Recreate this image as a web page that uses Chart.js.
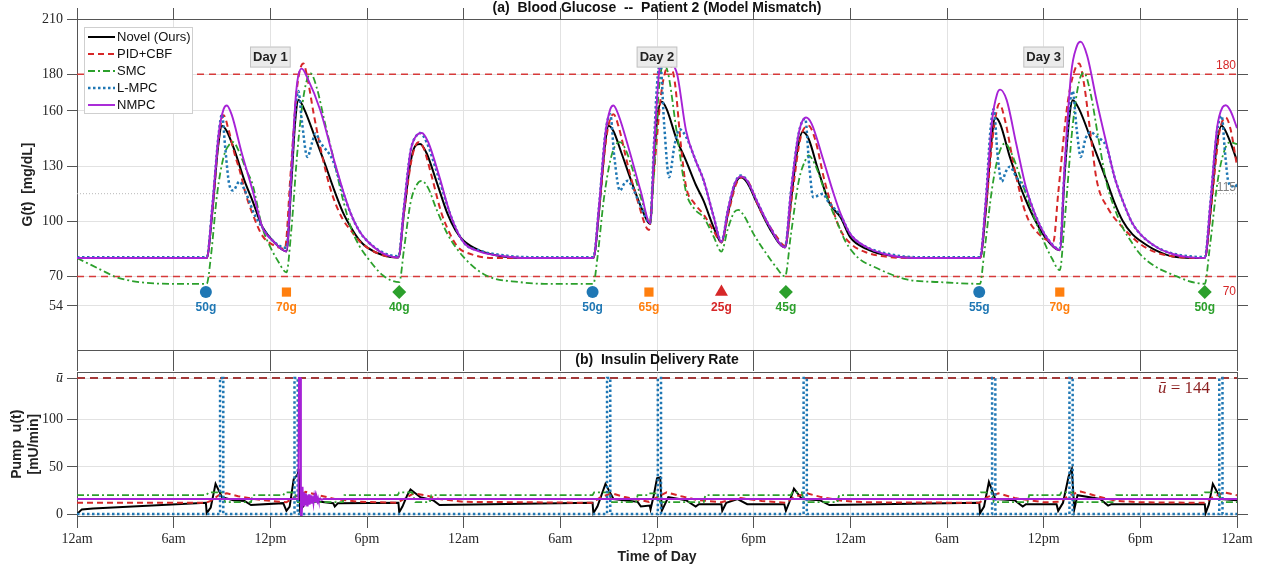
<!DOCTYPE html>
<html>
<head>
<meta charset="utf-8">
<script src="https://cdn.jsdelivr.net/npm/chart.js@4.4.1/dist/chart.umd.min.js"></script>
<style>
  html, body { margin: 0; padding: 0; background: #fff; }
  #wrap { position: relative; width: 1267px; height: 571px; overflow: hidden; }
  canvas { position: absolute; left: 0; }
  #glucose { top: 0; }
  #insulin { top: 360px; }
</style>
</head>
<body>
<div id="wrap">
  <canvas id="glucose" width="1267" height="371"></canvas>
  <canvas id="insulin" width="1267" height="211"></canvas>
</div>
<script>
// ── Data (hours since midnight of day 1) ─────────────────────────────

const hourTicks  = [0, 6, 12, 18, 24, 30, 36, 42, 48, 54, 60, 66, 72];
const timeLabels = ['12am', '6am', '12pm', '6pm', '12am', '6am', '12pm', '6pm',
                    '12am', '6am', '12pm', '6pm', '12am'];
const glucoseTicks = [54, 70, 100, 130, 160, 180, 210];
const pumpTicks    = [0, 50, 100, 144];

const seriesNames = ['Novel (Ours)', 'PID+CBF', 'SMC', 'L-MPC', 'NMPC'];

const hyperLimit  = 180;
const hypoLimit   = 70;
const targetLevel = 115;
const pumpMax     = 144;

const mealHours = [8, 13, 20, 32, 35.5, 40, 44, 56, 61, 70];
const mealGrams = ['50g', '70g', '40g', '50g', '65g', '25g', '45g', '55g', '70g', '50g'];
const mealKinds = ['circle', 'rect', 'rectRot', 'circle', 'rect', 'triangle', 'rectRot',
                   'circle', 'rect', 'rectRot'];

const dayHours = [12, 36, 60];
const dayNames = ['Day 1', 'Day 2', 'Day 3'];

// glucose G(t) [mg/dL]
const gNovel = [[0,80],[8.05,80],[8.4,105],[8.75,140],[9.0,152],[9.3,149],[9.8,138],[10.4,122],[10.9,111],[11.5,97],[12.2,89],[13.0,83.6],
  [13.3,120],[13.55,155],[13.75,166],[14.1,161],[14.8,145],[15.4,131],[15.9,118.5],[16.5,105],[17.0,96.7],[17.5,90],[18.0,85.8],[19.0,81.5],[19.95,80.3],
  [20.3,105],[20.7,132],[21.0,141],[21.3,142],[21.7,137],[22.3,122],[23.0,104],[23.5,95],[24.0,89.4],[25.0,84],[26.0,81.5],[27.5,80],
  [32.05,80],[32.4,105],[32.75,140],[33.0,152],[33.3,149],[33.8,137],[34.4,122],[35.0,108],[35.57,98.6],
  [35.8,130],[36.0,155],[36.3,165],[36.6,161],[37.2,145],[37.8,133],[38.4,120],[38.9,111],[39.5,97],[40.0,88.5],
  [40.4,104],[40.8,119],[41.2,124],[41.6,121],[42.2,110],[43.0,96],[43.95,85.8],
  [44.3,110],[44.7,138],[45.04,148.5],[45.4,145],[46.0,128],[46.7,110],[47.4,102],[48.0,91.2],[49.0,85],[50.0,82],[52.0,80],
  [56.05,80],[56.4,105],[56.75,143],[57.0,156.4],[57.3,153],[57.9,135],[58.5,120],[58.9,111.3],[59.5,100],[60.2,90],[61.0,84.3],
  [61.3,125],[61.6,157],[61.8,165.8],[62.2,161],[63.0,143],[63.9,122.2],[64.4,110],[64.9,100.3],[65.5,93],[66.0,89.4],[67.0,84],[68.0,80.9],[70.0,80],
  [70.35,105],[70.75,142],[71.05,152],[71.4,147],[72.0,133]];

const gPid = [[0,80],[8.05,80],[8.4,106],[8.8,145],[9.1,157.6],[9.4,150],[9.8,136],[10.1,127.6],[10.5,114],[10.9,104],[11.5,92.2],[12.2,87],[12.9,85],
  [13.25,125],[13.65,172],[14.05,185.8],[14.3,178],[14.7,158],[15.1,140.4],[15.5,125],[15.9,113],[16.5,101],[17.0,95],[17.5,89.5],[18.0,85.8],[19.0,81.5],[19.95,80.3],
  [20.3,105],[20.8,135],[21.2,143],[21.5,140],[22.0,125],[22.6,105],[23.0,96],[23.6,86.4],[24.5,82],[26,80],
  [32.05,80],[32.4,106],[32.9,148],[33.3,158.2],[33.6,152],[34.2,130],[34.8,111],[35.5,95.3],
  [35.8,125],[36.3,172],[36.8,185],[37.1,176],[37.5,140],[37.8,119],[38.3,110],[38.9,103.6],[39.5,95],[40.0,88.5],
  [40.4,103],[40.9,120],[41.3,124],[41.7,121],[42.3,108],[42.8,100],[43.4,92],[43.95,86.7],
  [44.4,115],[44.9,145],[45.4,152],[45.8,145],[46.4,122],[47.0,104],[47.4,95],[48.0,88],[49.0,83],[50.5,80.5],[52,80],
  [56.05,80],[56.4,106],[56.9,150],[57.25,163.9],[57.6,155],[58.2,128],[58.9,104],[59.6,94],[60.6,88.9],
  [60.9,115],[61.5,165],[62.0,184],[62.2,185.8],[62.5,175],[62.9,148],[63.3,122],[64.0,107],[64.9,96.7],[66.0,87.6],[67.0,83],[68.5,80.5],[70.0,80],
  [70.4,108],[70.9,148],[71.3,156.4],[71.6,150],[72.0,130]];

const gSmc = [[0,80],[0.7,77],[1.4,74],[2.45,69.6],[3.9,66.9],[6,66],[8.05,66],[8.3,80],[8.7,115],[9.1,135],[9.4,141],[9.7,143],[10.0,139],[10.5,128],[10.9,120],[11.5,96.7],[12.0,86],[12.5,78],[13.0,72.2],
  [13.3,95],[13.7,140],[14.1,170],[14.5,180.4],[14.9,172],[15.4,153],[15.9,135],[16.5,112],[17.0,96.7],[17.5,87],[18.0,80.5],[19.0,70.5],[20.0,66.9],
  [20.3,85],[20.7,110],[21.1,120],[21.4,122],[21.8,118],[22.3,106.8],[23.0,93],[24.0,80.5],[25.4,70.5],[27.5,66.9],[29,66],
  [32.05,66],[32.3,80],[32.7,112],[33.1,133],[33.4,141],[33.7,143],[34.0,140],[34.6,125],[35.1,110],[35.57,99.3],
  [35.8,125],[36.1,170],[36.4,186],[36.7,180],[37.2,150],[37.8,116],[38.3,107],[38.9,102],[39.5,92],[40.0,83.5],
  [40.4,96],[40.8,105],[41.05,106.2],[41.4,103],[42.0,93],[42.8,82.2],[43.4,75],[43.95,70],
  [44.3,92],[44.8,122],[45.2,133],[45.4,135.8],[45.8,131],[46.5,114],[47.3,97],[47.7,89],[48.5,80],[49.4,75.5],[51.5,68.4],[53.6,66.9],[56.05,66],
  [56.3,82],[56.8,118],[57.2,136],[57.6,142.4],[58.0,137],[58.9,114.8],[59.5,100],[60.0,89.3],[60.5,80],[61.0,73.4],
  [61.3,100],[61.8,152],[62.2,176],[62.5,180.7],[62.9,170],[63.4,145],[63.9,121],[64.4,107],[64.9,96.7],[65.5,88],[66.0,82],[67.0,75],[68.0,71],[69.0,67.5],[70.0,66],
  [70.3,85],[70.8,122],[71.2,138],[71.55,143],[72.0,142]];

const gLmpc = [[0,80.5],[8.05,80.5],[8.4,108],[8.8,148],[9.0,158.2],[9.2,140],[9.45,120],[9.7,116.7],[10.0,121],[10.1,121.6],[10.35,118],[10.6,113],[11.0,104],[11.5,96.7],[12.2,89],[13.0,85.5],
  [13.3,125],[13.55,160],[13.74,170.8],[13.95,155],[14.3,135],[14.6,143],[14.8,147.8],[15.1,143],[15.9,132.7],[16.5,116],[17.0,104],[17.5,95],[18.0,89.4],[19.0,83],[19.95,81],
  [20.3,108],[20.7,138],[21.1,147],[21.3,148],[21.7,143],[22.4,125],[23.2,103],[24.0,88.5],[25.0,84],[26.5,81.5],[28,80.5],
  [32.05,80.5],[32.4,108],[32.8,148],[33.1,158.2],[33.35,135],[33.7,116.7],[34.0,121],[34.2,122],[34.5,118],[35.0,108],[35.57,99],
  [35.8,140],[36.0,174],[36.2,186],[36.45,152],[36.75,124],[37.1,142],[37.4,150],[37.8,146],[38.4,133],[38.9,122],[39.5,103],[40.0,89],
  [40.4,106],[40.8,120],[41.2,124.9],[41.6,122],[42.2,111],[43.0,97],[43.95,86.2],
  [44.3,115],[44.8,148],[45.2,155.8],[45.45,130],[45.7,113],[46.0,114],[46.3,115],[46.6,111],[46.9,108],[47.4,103],[48.0,93],[49.0,86],[50.0,83],[52,80.5],
  [56.05,80.5],[56.4,110],[56.7,150],[56.9,161],[57.15,135],[57.4,121.6],[57.65,127],[57.9,129.7],[58.3,124],[58.9,116.7],[59.5,103],[60.2,91],[61.0,85],
  [61.3,128],[61.6,162],[61.8,170.8],[62.05,150],[62.3,135],[62.6,145],[62.9,148.5],[63.3,146],[63.9,140.4],[64.4,124],[64.9,111.3],[65.5,99],[66.0,93],[67.0,86],[68.0,82.5],[69,81],[70.0,80.5],
  [70.35,110],[70.75,148],[71.05,157.3],[71.25,138],[71.45,122],[71.7,119],[71.9,120],[72.0,118]];

const gNmpc = [[0,80],[8.05,80],[8.4,108],[8.8,148],[9.1,161],[9.3,163],[9.6,158],[10.2,138],[10.9,116.7],[11.5,97],[12.2,89],[13.0,83.6],
  [13.3,125],[13.6,170],[13.95,183],[14.3,178],[15.1,160.4],[15.9,134.9],[16.5,117],[17.0,104],[17.5,95],[18.0,89.4],[19.0,82.5],[19.95,80.3],
  [20.3,108],[20.7,138],[21.1,147],[21.4,148],[21.8,143],[22.5,124],[23.2,103],[24.0,88.5],[25.0,83.5],[26.5,81],[28,80],
  [32.05,80],[32.4,108],[32.8,148],[33.1,161],[33.3,163],[33.6,158],[34.3,138],[35.0,116],[35.57,99],
  [35.85,145],[36.2,186],[36.5,190],[36.8,187],[37.25,180],[37.8,149.4],[38.4,133],[38.9,122.2],[39.5,103],[40.0,88.9],
  [40.4,106],[40.8,120],[41.2,124.4],[41.6,122],[42.2,111],[43.0,97],[43.95,85.8],
  [44.3,115],[44.8,148],[45.25,156.4],[45.6,153],[46.3,134],[47.0,114],[47.4,104],[48.0,93],[49.0,86],[50.0,82.5],[52,80],
  [56.05,80],[56.4,110],[56.8,155],[57.1,169],[57.3,171.6],[57.7,166],[58.3,142],[58.9,118.5],[59.5,103],[60.2,91],[61.0,84.3],
  [61.3,130],[61.7,180],[62.05,195],[62.3,197.6],[62.7,190],[63.3,165],[63.9,142.2],[64.4,124],[64.9,111.3],[65.5,99],[66.0,93],[67.0,86],[68.0,82.2],[69,80.5],[70.0,80],
  [70.35,110],[70.75,150],[71.1,162],[71.3,163.1],[71.6,160],[72.0,150.7]];

// pump rate u(t) [mU/min]
const uNovel = [[0,0],[0.3,5],[1,6],[8.0,12],[8.05,1],[8.3,7],[8.6,32],[9.0,18],[9.7,14.7],[10.4,14],[10.8,9.6],[12.8,11.6],[13.0,3.5],[13.2,8],
  [13.45,37],[13.7,42],[13.75,48],[13.85,3.5],[14.3,14.7],[15.9,11.6],[16.0,8],[16.2,11.6],[19.95,12],[20.0,2],[20.2,8],[20.5,20],[20.7,26],[21.0,22],[21.3,18],
  [22.1,14.7],[22.5,9.6],[32.0,12],[32.05,1],[32.3,8],[32.8,32],[33.3,16],[34.8,13],[35.0,8],[35.55,9],[35.6,5],[35.8,20],[36.0,38],[36.2,39],[36.3,3.5],
  [36.7,18],[37.8,14.7],[38.4,8],[38.6,10.5],[40.0,10.5],[40.05,3.5],[40.3,12],[41.0,16],[41.6,10.5],[43.9,10.5],[44.0,3.5],[44.2,12],[44.5,27],[45.0,16],
  [46.1,14.7],[46.7,9.6],[56.0,12],[56.05,1],[56.3,8],[56.6,34],[57.0,16],[58.2,14.7],[58.7,8],[58.9,10.5],[60.8,10.5],[60.9,3.5],[61.2,12],[61.55,40],
  [61.75,48],[61.9,5],[62.1,20],[63.5,16],[64.0,9],[64.2,10.5],[70.0,10.5],[70.05,1],[70.25,10],[70.5,32],[71.0,16],[72,14.7]];

const uPid = [[0,12],[8.0,12],[8.3,14],[8.8,20],[9.3,22],[10.0,19],[11.0,16],[12.0,14],[13.0,12.5],[13.5,18],[14.2,23.5],[15.0,20],[16.0,16],[17.5,13],
  [19.9,12],[20.3,16],[20.9,22],[21.6,20],[22.5,16],[24,13],[32,12],[32.5,18],[33.2,22],[34.0,18],[35.5,13],[36.0,18],[36.6,23],[37.5,19],[38.5,15],
  [40.0,12.5],[40.5,15],[41.2,17],[42.5,14],[44.0,12],[44.5,18],[45.3,22],[46.2,18],[47.5,14],[49,12.5],[56,12],[56.5,18],[57.2,22],[58.2,17],[60,12.5],
  [61.0,13],[61.6,20],[62.3,24],[63.3,19],[64.5,14],[66,12.5],[70,12],[70.5,18],[71.2,23],[72,20]];

const uSmc = [[0,20],[8.0,20],[8.2,23],[9.0,23],[9.2,12.6],[10.8,12.6],[10.9,20],[12.8,20],[12.9,23],[13.5,23],[13.7,12.6],[16.5,12.6],[16.6,20],
  [19.9,20],[20.0,23],[20.8,23],[21.0,12.6],[21.9,12.6],[22.0,20],[32.0,20],[32.1,23],[33.0,23],[33.2,12.6],[34.7,12.6],[34.8,20],[35.4,20],[35.5,22],
  [36.0,22],[36.2,12.6],[38.9,12.6],[39.0,20],[44.3,20],[44.4,23],[45.0,23],[45.1,12.6],[47.2,12.6],[47.3,20],[56.0,20],[56.1,23],[56.8,23],[56.9,12.6],
  [59.0,12.6],[59.1,20],[61.0,20],[61.1,23],[61.8,23],[61.9,12.6],[64.4,12.6],[64.5,20],[69.9,20],[70.0,23],[70.9,23],[71.0,12.6],[72,12.6]];

const uLmpc = [[0,0],[8.88,0],[8.88,144],[9.08,144],[9.08,0],[13.5,0],[13.5,144],[13.7,144],[13.7,0],[32.9,0],[32.9,144],[33.1,144],[33.1,0],
  [36.05,0],[36.05,144],[36.25,144],[36.25,0],[45.1,0],[45.1,144],[45.3,144],[45.3,0],[56.8,0],[56.8,144],[57.0,144],[57.0,0],
  [61.6,0],[61.6,144],[61.8,144],[61.8,0],[70.9,0],[70.9,144],[71.1,144],[71.1,0],[72,0]];

const uNmpc = [[0,16],[13.74,16],[13.78,144],[13.86,144],[13.9,-2],[13.95,-2],[14.0,29],[14.04,9],[14.08,23],[14.12,8],[14.16,22],[14.2,10],
  [14.24,21],[14.28,9],[14.32,20],[14.36,11],[14.4,21],[14.44,10],[14.48,19],[14.52,11],[14.56,20],[14.6,12],[14.64,19],[14.68,12],[14.72,18],
  [14.76,13],[14.8,18],[14.84,13],[14.88,17],[14.92,14],[14.96,17],[15.0,14],[15.1,16.5],[15.2,15],[15.3,16],[72,16]];

// ── Styles ───────────────────────────────────────────────────────────

const SANS  = "'Liberation Sans', Arial, Helvetica, sans-serif";
const SERIF = "'Liberation Serif', 'Times New Roman', serif";

const GRID = '#e2e2e2';
const AXIS = '#555';
const TEXT = '#262626';

const seriesStyle = [
  { color: '#000000', width: 2,   dash: [] },
  { color: '#d62728', width: 2,   dash: [6, 4] },
  { color: '#2ca02c', width: 1.8, dash: [7, 3, 2, 3] },
  { color: '#1f77b4', width: 2.5, dash: [2.5, 2.5] },
  { color: '#a622d6', width: 1.9, dash: [] },
];
const mealColor = { circle: '#1f77b4', rect: '#ff7f0e', triangle: '#d62728', rectRot: '#2ca02c' };
const mealSize  = { circle: 6, rect: 6.5, triangle: 7.5, rectRot: 7 };

const MEAL_MARK_G  = 61.5;
const MEAL_LABEL_G = 53;
const DAY_LABEL_G  = 189.3;

const pts = (arr) => arr.map(([x, y]) => ({ x, y }));
const hline = (v) => [{ x: 0, y: v }, { x: 72, y: v }];
const setTicks = (list) => (scale) => { scale.ticks = list.map((v) => ({ value: v })); };

function lineSet(label, data, i, smooth) {
  const s = seriesStyle[i];
  return {
    label, data: pts(data),
    borderColor: s.color, backgroundColor: s.color,
    borderWidth: s.width, borderDash: s.dash,
    pointRadius: 0, fill: false,
    tension: smooth ? 0.4 : 0,
    cubicInterpolationMode: smooth ? 'monotone' : 'default',
    order: 5 - i,
  };
}

function refLine(label, v, color, width, dash) {
  return { label, data: hline(v), borderColor: color, borderWidth: width, borderDash: dash,
           pointRadius: 0, fill: false, order: 20 };
}

function sideAxes(min, max, yTicks, topHeight, topTicks) {
  return {
    xTop: {
      type: 'linear', position: 'top', min: 0, max: 72,
      afterBuildTicks: setTicks(hourTicks),
      ticks: { display: false },
      grid: { drawOnChartArea: false, drawTicks: topTicks, tickLength: 11, tickColor: AXIS },
      border: { color: AXIS },
      afterFit: (s) => { s.height = topHeight; },
    },
    yRight: {
      type: 'linear', position: 'right', min, max,
      afterBuildTicks: setTicks(yTicks),
      ticks: { display: false },
      grid: { drawOnChartArea: false, tickLength: 11, tickColor: AXIS },
      border: { color: AXIS },
      afterFit: (s) => { s.width = 30; },
    },
  };
}

// ── Annotations drawn on the glucose panel ───────────────────────────

const glucoseNotes = {
  id: 'glucoseNotes',
  afterDraw(chart) {
    const { ctx, chartArea: a, scales: { x, y } } = chart;
    ctx.save();
    ctx.textAlign = 'center';
    ctx.textBaseline = 'middle';

    // panel titles
    ctx.fillStyle = '#111';
    ctx.font = `bold 14px ${SANS}`;
    const cx = (a.left + a.right) / 2;
    ctx.fillText('(a)  Blood Glucose  --  Patient 2 (Model Mismatch)', cx, 8);
    ctx.fillText('(b)  Insulin Delivery Rate', cx, a.bottom + 10.5);

    // day boxes
    ctx.font = `bold 13px ${SANS}`;
    dayHours.forEach((h, i) => {
      const px = x.getPixelForValue(h), py = y.getPixelForValue(DAY_LABEL_G);
      const w = ctx.measureText(dayNames[i]).width + 6;
      ctx.fillStyle = '#ebebeb';
      ctx.strokeStyle = '#c4c4c4';
      ctx.lineWidth = 1;
      ctx.fillRect(px - w / 2, py - 10.5, w, 21);
      ctx.strokeRect(px - w / 2 + 0.5, py - 10, w - 1, 20);
      ctx.fillStyle = '#222';
      ctx.fillText(dayNames[i], px, py + 0.5);
    });

    // meal labels
    ctx.font = `bold 12px ${SANS}`;
    mealHours.forEach((h, i) => {
      ctx.fillStyle = mealColor[mealKinds[i]];
      ctx.fillText(mealGrams[i], x.getPixelForValue(h), y.getPixelForValue(MEAL_LABEL_G));
    });

    // reference line labels
    ctx.textAlign = 'right';
    ctx.font = `12px ${SANS}`;
    const rx = a.right - 1;
    ctx.fillStyle = '#d62728';
    ctx.fillText(String(hyperLimit), rx, y.getPixelForValue(hyperLimit) - 8);
    ctx.fillText(String(hypoLimit), rx, y.getPixelForValue(hypoLimit) + 15);
    ctx.fillStyle = '#808080';
    ctx.fillText(String(targetLevel), rx, y.getPixelForValue(targetLevel) - 6);

    // legend
    const L = { x: 84, y: 27, w: 108, h: 86, row: 17 };
    ctx.fillStyle = '#fff';
    ctx.fillRect(L.x, L.y, L.w, L.h);
    ctx.strokeStyle = '#cfcfcf';
    ctx.lineWidth = 1;
    ctx.strokeRect(L.x + 0.5, L.y + 0.5, L.w, L.h);
    ctx.textAlign = 'left';
    ctx.font = `13px ${SANS}`;
    seriesNames.forEach((name, i) => {
      const s = seriesStyle[i];
      const ly = L.y + 10 + i * L.row;
      ctx.setLineDash(s.dash);
      ctx.strokeStyle = s.color;
      ctx.lineWidth = s.width;
      ctx.beginPath();
      ctx.moveTo(L.x + 4, ly);
      ctx.lineTo(L.x + 31, ly);
      ctx.stroke();
      ctx.setLineDash([]);
      ctx.fillStyle = '#111';
      ctx.fillText(name, L.x + 33, ly + 0.5);
    });
    ctx.restore();
  },
};

const pumpNotes = {
  id: 'pumpNotes',
  afterDraw(chart) {
    const { ctx, chartArea: a, scales: { y } } = chart;
    ctx.save();
    ctx.textBaseline = 'middle';
    ctx.fillStyle = '#8b1f1f';
    const ty = y.getPixelForValue(pumpMax) + 10;
    ctx.font = `17px ${SERIF}`;
    const rest = ' = ' + pumpMax;
    const rw = ctx.measureText(rest).width;
    ctx.textAlign = 'right';
    const right = a.right - 27;
    ctx.fillText(rest, right, ty);
    ctx.font = `italic 17px ${SERIF}`;
    ctx.fillText('\u016B', right - rw, ty);
    ctx.restore();
  },
};

// ── Panel (a): blood glucose ─────────────────────────────────────────

const glucoseSets = [
  lineSet(seriesNames[0], gNovel, 0, true),
  lineSet(seriesNames[1], gPid,   1, true),
  lineSet(seriesNames[2], gSmc,   2, true),
  lineSet(seriesNames[3], gLmpc,  3, true),
  lineSet(seriesNames[4], gNmpc,  4, true),
  refLine('hyper', hyperLimit, '#d63a3a', 1.5, [7, 5]),
  refLine('hypo',  hypoLimit,  '#d63a3a', 1.5, [7, 5]),
  refLine('target', targetLevel, '#b8b8b8', 1, [1, 2]),
  {
    label: 'meals', type: 'scatter', showLine: false, order: 0,
    data: mealHours.map((h) => ({ x: h, y: MEAL_MARK_G })),
    pointStyle: mealKinds,
    pointRadius: mealKinds.map((k) => mealSize[k]),
    pointBackgroundColor: mealKinds.map((k) => mealColor[k]),
    pointBorderColor: mealKinds.map((k) => mealColor[k]),
    pointBorderWidth: 0,
  },
];

new Chart(document.getElementById('glucose'), {
  type: 'line',
  data: { datasets: glucoseSets },
  options: {
    responsive: false, animation: false, devicePixelRatio: 1,
    layout: { padding: 0 },
    plugins: { legend: { display: false }, tooltip: { enabled: false } },
    scales: {
      x: {
        type: 'linear', position: 'bottom', min: 0, max: 72,
        afterBuildTicks: setTicks(hourTicks),
        ticks: { display: false },
        grid: { color: GRID, tickLength: 21, tickColor: AXIS },
        border: { color: AXIS },
        afterFit: (s) => { s.height = 21; },
      },
      y: {
        type: 'linear', position: 'left', min: 30, max: 210,
        afterBuildTicks: setTicks(glucoseTicks),
        ticks: { font: { family: SERIF, size: 14 }, color: TEXT, padding: 4 },
        grid: { color: GRID, tickLength: 10, tickColor: AXIS },
        border: { color: AXIS },
        title: { display: true, text: 'G(t)  [mg/dL]', color: '#222',
                 font: { family: SANS, size: 14, weight: 'bold' }, padding: { top: 20, bottom: 0 } },
        afterFit: (s) => { s.width = 77; },
      },
      ...sideAxes(30, 210, glucoseTicks, 19, true),
    },
  },
  plugins: [glucoseNotes],
});

// ── Panel (b): insulin delivery rate ─────────────────────────────────

const pumpSets = [
  lineSet(seriesNames[0], uNovel, 0, false),
  lineSet(seriesNames[1], uPid,   1, false),
  lineSet(seriesNames[2], uSmc,   2, false),
  lineSet(seriesNames[3], uLmpc,  3, false),
  lineSet(seriesNames[4], uNmpc,  4, false),
  refLine('umax', pumpMax, '#a33a3a', 2, [8, 5]),
];

new Chart(document.getElementById('insulin'), {
  type: 'line',
  data: { datasets: pumpSets },
  options: {
    responsive: false, animation: false, devicePixelRatio: 1,
    layout: { padding: 0 },
    plugins: { legend: { display: false }, tooltip: { enabled: false } },
    scales: {
      x: {
        type: 'linear', position: 'bottom', min: 0, max: 72,
        afterBuildTicks: setTicks(hourTicks),
        ticks: { callback: (v, i) => timeLabels[i], autoSkip: false, maxRotation: 0,
                 font: { family: SERIF, size: 14 }, color: TEXT, padding: 3 },
        grid: { color: GRID, tickLength: 12, tickColor: AXIS },
        border: { color: AXIS },
        title: { display: true, text: 'Time of Day', color: '#222',
                 font: { family: SANS, size: 14, weight: 'bold' }, padding: { top: 0, bottom: 5 } },
        afterFit: (s) => { s.height = 55; },
      },
      y: {
        type: 'linear', position: 'left', min: -2, max: 150,
        afterBuildTicks: setTicks(pumpTicks),
        ticks: {
          callback: (v) => (v === pumpMax ? '\u016B' : v),
          font: (c) => (c.tick && c.tick.value === pumpMax
            ? { family: SERIF, size: 14, style: 'italic' }
            : { family: SERIF, size: 14 }),
          color: TEXT, padding: 4,
        },
        grid: { color: GRID, tickLength: 10, tickColor: AXIS },
        border: { color: AXIS },
        title: { display: true, text: ['Pump  u(t)', '[mU/min]'], color: '#222',
                 font: { family: SANS, size: 14, weight: 'bold' }, padding: { top: 9, bottom: 0 } },
        afterFit: (s) => { s.width = 77; },
      },
      ...sideAxes(-2, 150, pumpTicks, 11, false),
    },
  },
  plugins: [pumpNotes],
});
</script>
</body>
</html>
